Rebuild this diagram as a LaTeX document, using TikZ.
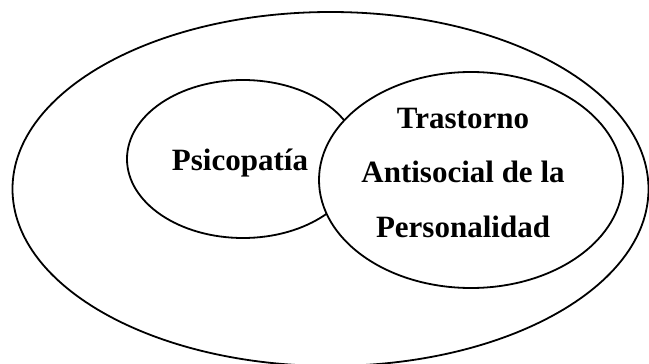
\documentclass[tikz,border=0pt]{standalone}
\usepackage{fontspec}
\setmainfont{Liberation Serif}
\usetikzlibrary{shapes.geometric}
\tikzset{
  ring/.style={draw=black, line width=1.8pt, ellipse, inner sep=0pt, fill=white},
  label/.style={font=\bfseries\fontsize{31}{36}\selectfont, anchor=base, inner sep=0pt}
}
\begin{document}
\begin{tikzpicture}[x=1pt,y=-1pt]
\useasboundingbox (0,0) rectangle (649,364);
\node[ring, minimum width=636pt, minimum height=354pt] (outer) at (330.5,189) {};
\node[ring, minimum width=232pt, minimum height=158pt] (psico) at (243,159) {};
\node[ring, minimum width=304pt, minimum height=216pt] (tap) at (471,180) {};
\node[label] (psicotext) at (240,170) {Psicopatía};
\node[label] (t1) at (463,128) {Trastorno};
\node[label] (t2) at (463,182) {Antisocial de la};
\node[label] (t3) at (463,237) {Personalidad};
\end{tikzpicture}
\end{document}
